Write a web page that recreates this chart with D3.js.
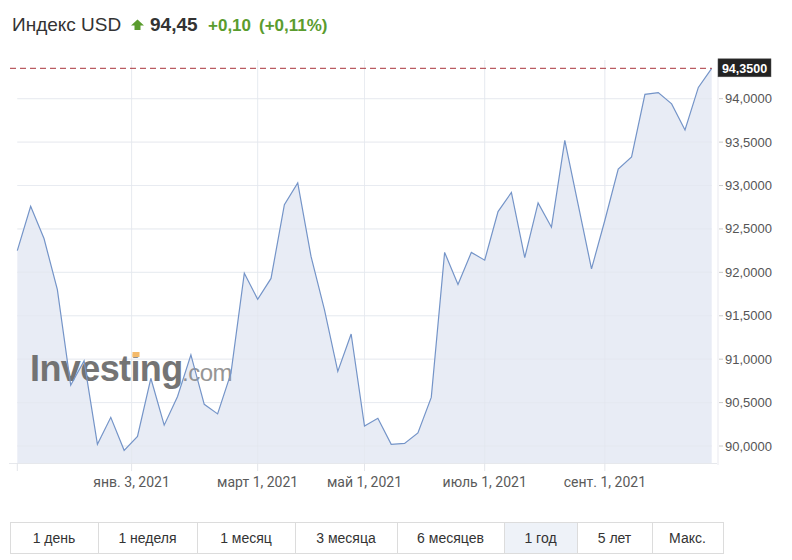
<!DOCTYPE html>
<html><head><meta charset="utf-8">
<script src="https://cdn.jsdelivr.net/npm/d3@7"></script>
<style>
html,body{margin:0;padding:0;background:#fff;}
svg{display:block;}
</style>
</head><body>
<svg id="chart" width="792" height="560"></svg>
<script>
// ---- data ----
const values = [92.25,92.76,92.39,91.80,90.70,90.98,90.02,90.33,89.95,90.11,
  90.78,90.24,90.57,91.05,90.48,90.37,90.84,91.99,91.69,91.93,
  92.78,93.03,92.18,91.57,90.86,91.29,90.23,90.32,90.02,90.03,
  90.15,90.56,92.23,91.86,92.23,92.14,92.70,92.92,92.17,92.80,
  92.52,93.52,92.78,92.04,92.60,93.19,93.33,94.05,94.07,93.94,
  93.64,94.13,94.35];
const xTickLabels = ["янв. 3, 2021","март 1, 2021","май 1, 2021","июль 1, 2021","сент. 1, 2021"];
const xTickWeeks = [8.56,18,26,35,44];
const yTicks = [90,90.5,91,91.5,92,92.5,93,93.5,94];
const lastValue = 94.35;
const titleName = "Индекс USD";
const titlePrice = "94,45";
const titleChange = "+0,10";
const titlePct = "(+0,11%)";
const periods = ["1 день","1 неделя","1 месяц","3 месяца","6 месяцев","1 год","5 лет","Макс."];
const periodSelected = "1 год";

// ---- layout ----
const svg = d3.select("#chart");
const L = 17.3, R = 711.7, T = 60, B = 463;
const x = d3.scaleLinear().domain([0, values.length-1]).range([L, R]);
const y = d3.scaleLinear().domain([90, 94]).range([446, 98.7]);
const fmt = v => d3.format(".4f")(v).replace(".", ",");
const font = "'Liberation Sans', Arial, sans-serif";

// title
svg.append("text").attr("x", 12).attr("y", 31)
  .attr("font-family", font).attr("font-size", 19).attr("fill", "#333").text(titleName);
svg.append("path").attr("d", "M137.5,19.5 L144,25.5 L140.5,25.5 L140.5,30 L134.5,30 L134.5,25.5 L131,25.5 Z")
  .attr("fill", "#5a9c2e");
svg.append("text").attr("x", 150).attr("y", 31).attr("font-family", font)
  .attr("font-size", 19).attr("font-weight", "bold").attr("fill", "#333").text(titlePrice);
svg.append("text").attr("x", 208).attr("y", 31).attr("font-family", font)
  .attr("font-size", 17).attr("font-weight", "bold").attr("fill", "#5a9c2e").text(titleChange);
svg.append("text").attr("x", 259).attr("y", 31).attr("font-family", font)
  .attr("font-size", 17).attr("font-weight", "bold").attr("fill", "#5a9c2e").text(titlePct);

// grid
const g = svg.append("g");
g.selectAll("line.h").data(yTicks).join("line").attr("class","h")
  .attr("x1", L).attr("x2", R).attr("y1", d=>y(d)).attr("y2", d=>y(d))
  .attr("stroke", "#f0f2f5").attr("stroke-width", 1);
g.selectAll("line.v").data(xTickWeeks).join("line").attr("class","v")
  .attr("x1", d=>x(d)).attr("x2", d=>x(d)).attr("y1", T).attr("y2", B)
  .attr("stroke", "#f0f2f5").attr("stroke-width", 1);

// area
const area = d3.area().x((d,i)=>x(i)).y0(B).y1(d=>y(d));
const line = d3.line().x((d,i)=>x(i)).y(d=>y(d));
svg.append("path").datum(values).attr("d", area).attr("fill", "#e8ecf5");
const g2 = svg.append("g");
g2.selectAll("line.h").data(yTicks).join("line").attr("class","h")
  .attr("x1", L).attr("x2", R).attr("y1", d=>y(d)).attr("y2", d=>y(d))
  .attr("stroke", "#e2e6ee").attr("stroke-width", 1).attr("stroke-opacity", 0.5);
g2.selectAll("line.v").data(xTickWeeks).join("line").attr("class","v")
  .attr("x1", d=>x(d)).attr("x2", d=>x(d)).attr("y1", T).attr("y2", B)
  .attr("stroke", "#e2e6ee").attr("stroke-width", 1).attr("stroke-opacity", 0.5);

// watermark
const wm = svg.append("g").attr("opacity", 0.9);
wm.append("text").attr("x", 30).attr("y", 381).attr("font-family", font)
  .attr("font-size", 36).attr("font-weight", "bold").attr("fill", "#666")
  .attr("letter-spacing", -0.6).text("Investing");
wm.append("rect").attr("x", 132.5).attr("y", 352).attr("width", 7).attr("height", 5)
  .attr("fill", "#f3b35b");
wm.append("text").attr("x", 182).attr("y", 381).attr("font-family", font)
  .attr("font-size", 24).attr("fill", "#8a8a8a").attr("letter-spacing", -0.5).text(".com");

svg.append("path").datum(values).attr("d", line).attr("fill", "none")
  .attr("stroke", "#7494c8").attr("stroke-width", 1.2);

// right strip
svg.append("line").attr("x1", 718).attr("x2", 718).attr("y1", T).attr("y2", B+2)
  .attr("stroke", "#f0f1f4").attr("stroke-width", 1.5);

// x axis
const xAxis = svg.append("g");
xAxis.append("line").attr("x1", 9).attr("x2", 717).attr("y1", B+0.5).attr("y2", B+0.5)
  .attr("stroke", "#e6e8ec");
xAxis.selectAll("line.t").data([0].concat(xTickWeeks)).join("line").attr("class","t")
  .attr("x1", d=>x(d)).attr("x2", d=>x(d)).attr("y1", B).attr("y2", B+8)
  .attr("stroke", "#e3e5ea");
xAxis.selectAll("text").data(xTickWeeks).join("text")
  .attr("x", d=>x(d)).attr("y", 487).attr("text-anchor", "middle")
  .attr("font-family", "Roboto, sans-serif").attr("font-size", 14)
  .attr("fill", "#5a5a5a").text((d,i)=>xTickLabels[i]);

// y axis right
const yAxis = svg.append("g");
yAxis.selectAll("line").data(yTicks).join("line")
  .attr("x1", 719).attr("x2", 723).attr("y1", d=>y(d)).attr("y2", d=>y(d))
  .attr("stroke", "#ccc");
yAxis.selectAll("text").data(yTicks).join("text")
  .attr("x", 725).attr("y", d=>y(d)+4.5)
  .attr("font-family", font).attr("font-size", 13)
  .attr("fill", "#555").text(d=>fmt(d));

// last value line + label
svg.append("line").attr("x1", 10).attr("x2", R).attr("y1", y(lastValue)).attr("y2", y(lastValue))
  .attr("stroke", "#a8323a").attr("stroke-width", 1).attr("stroke-dasharray", "6,4");
svg.append("rect").attr("x", 718).attr("y", y(lastValue)-9.5).attr("width", 53).attr("height", 18)
  .attr("fill", "#222").attr("stroke", "#555").attr("stroke-width", 0.5);
svg.append("text").attr("x", 744.5).attr("y", y(lastValue)+4.5).attr("text-anchor", "middle")
  .attr("font-family", font).attr("font-size", 12.5).attr("font-weight", "bold")
  .attr("fill", "#fff").text(fmt(lastValue));

// period buttons
const edges = [10, 98, 197, 295, 397, 504, 577, 652, 723];
const bt = svg.append("g");
periods.forEach((p,i)=>{
  bt.append("rect").attr("x", edges[i]+0.5).attr("y", 522.5)
    .attr("width", edges[i+1]-edges[i]).attr("height", 31)
    .attr("fill", p===periodSelected ? "#eef2f8" : "#fff")
    .attr("stroke", "#dcdcdc");
  bt.append("text").attr("x", (edges[i]+edges[i+1])/2).attr("y", 543)
    .attr("text-anchor", "middle").attr("font-family", font).attr("font-size", 14)
    .attr("fill", "#333").text(p);
});
</script>
</body></html>
